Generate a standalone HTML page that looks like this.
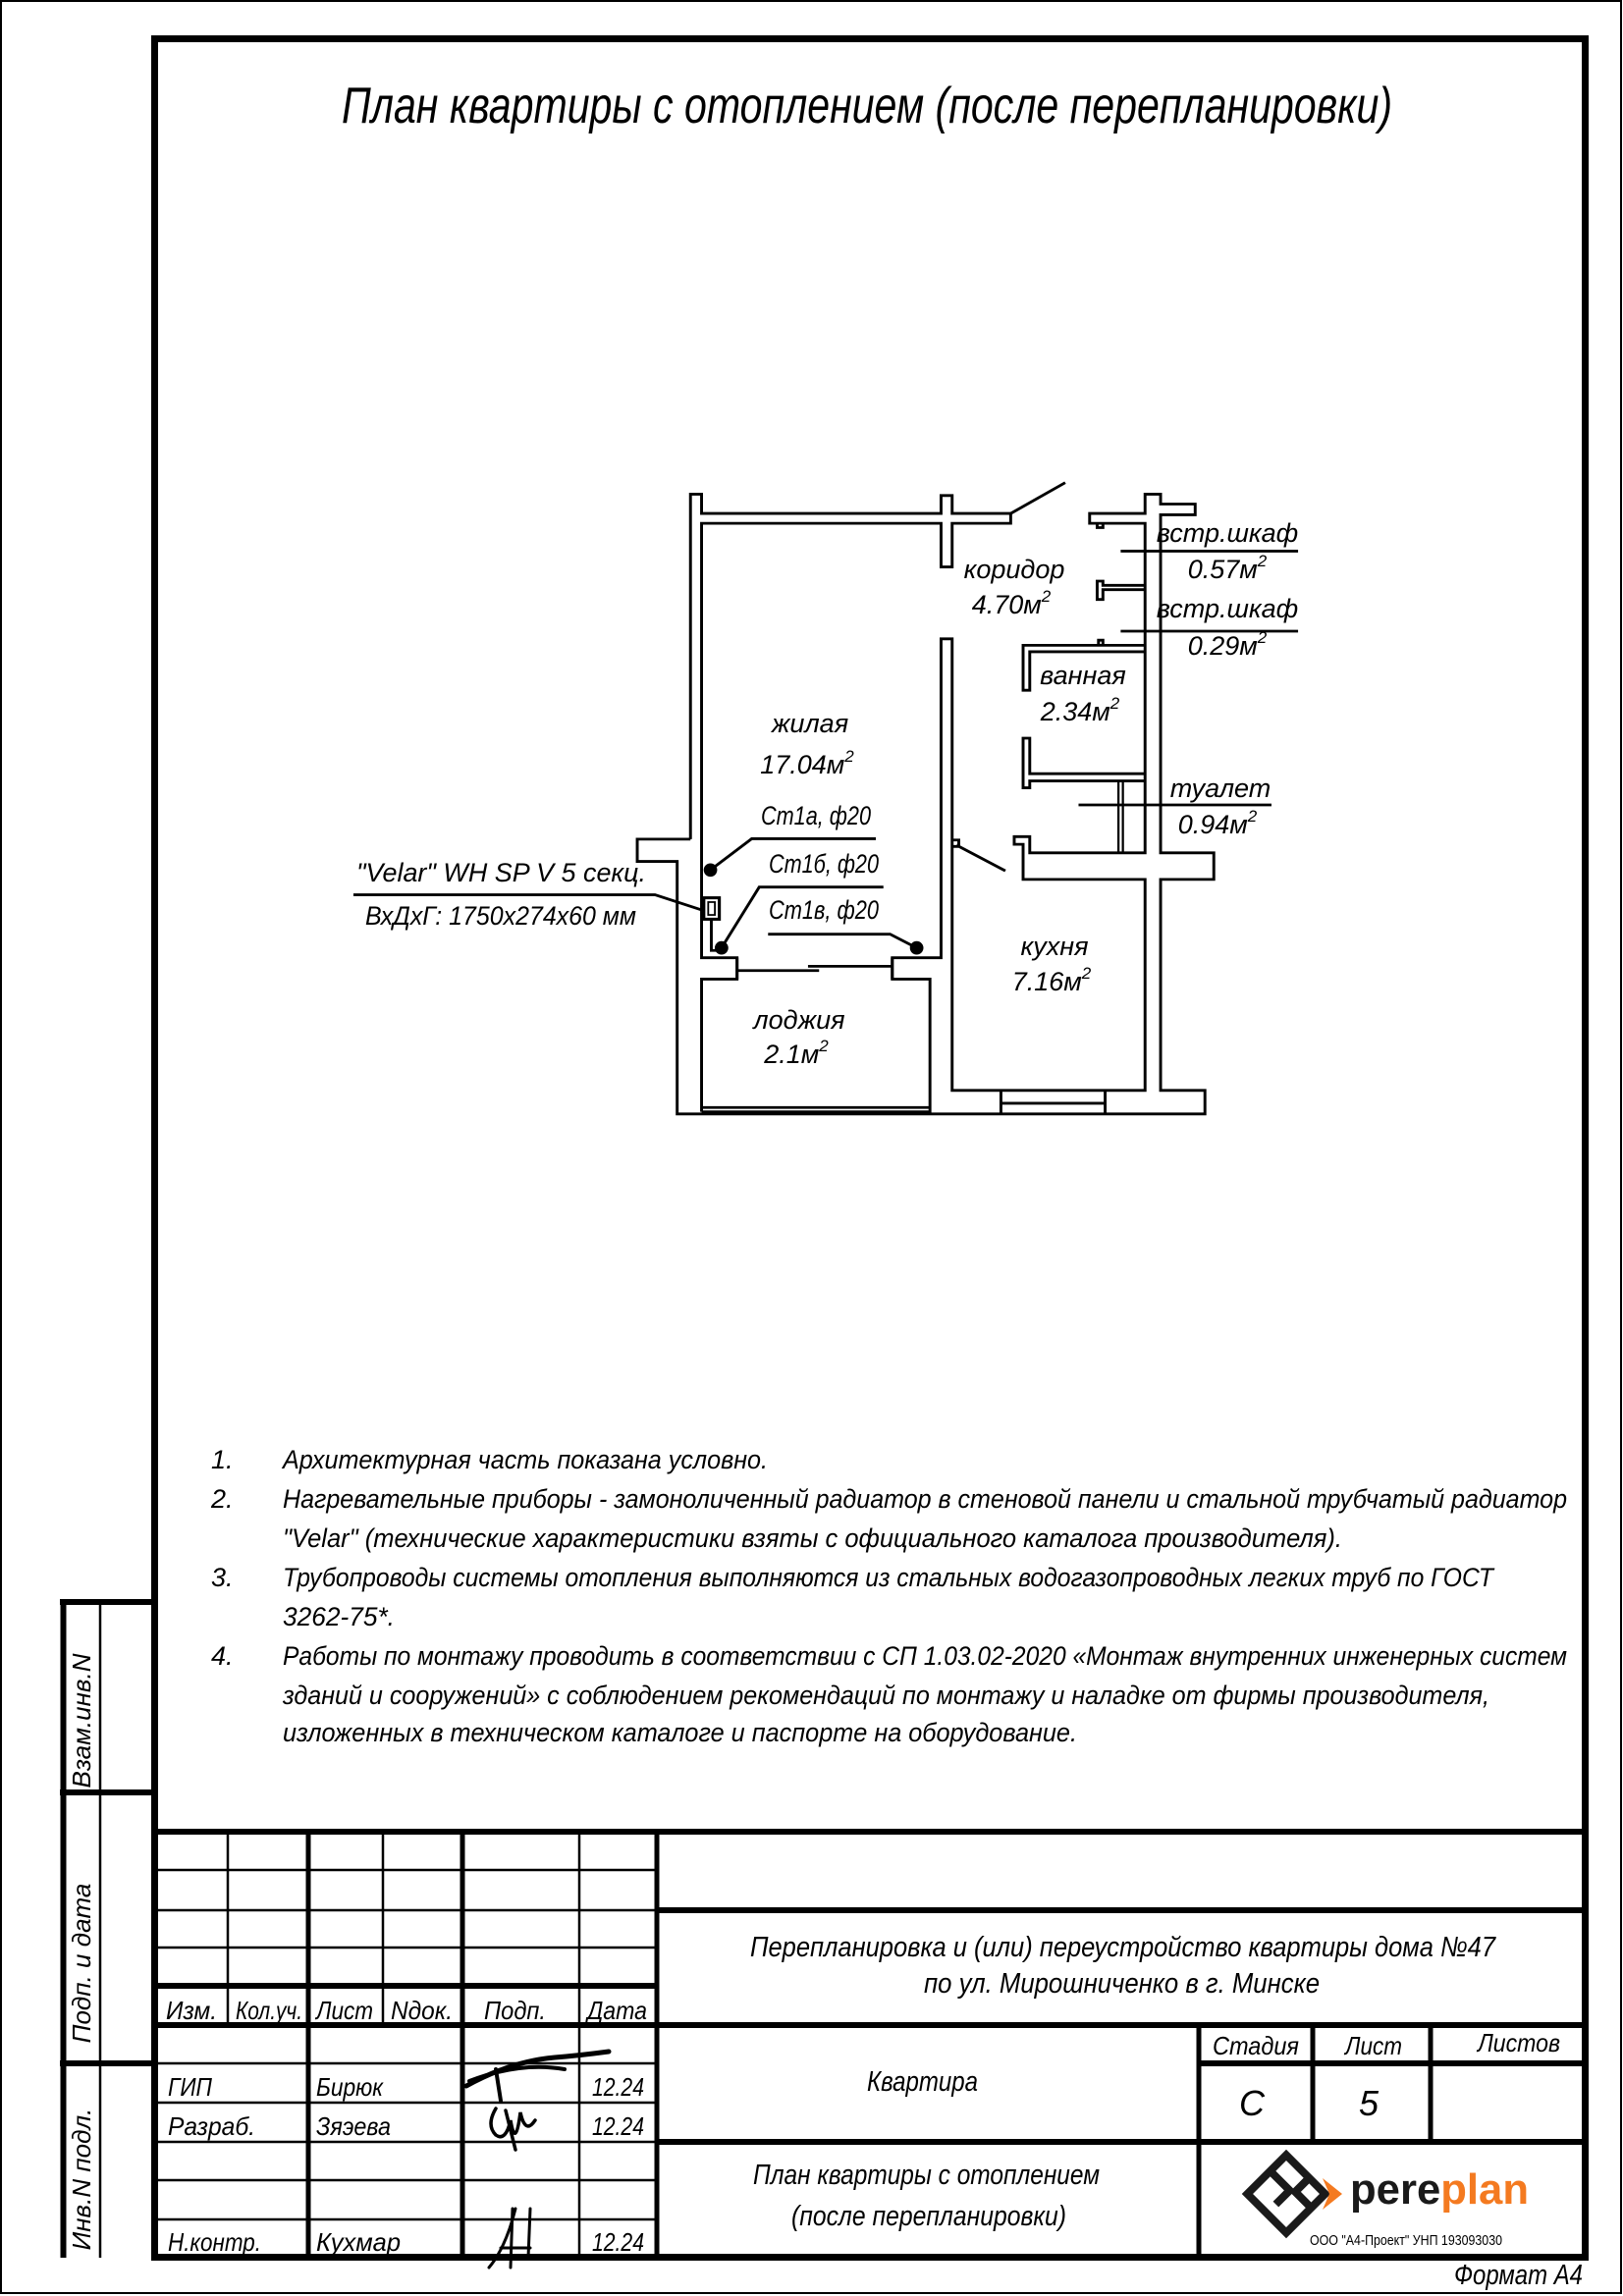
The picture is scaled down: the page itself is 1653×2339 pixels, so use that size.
<!DOCTYPE html>
<html><head><meta charset="utf-8">
<style>
html,body{margin:0;padding:0;background:#fff;}
svg{display:block;}
text{font-family:"Liberation Sans Narrow","Liberation Sans",sans-serif;font-style:italic;fill:#000;}
</style></head>
<body>
<svg width="1653" height="2339" viewBox="0 0 1653 2339" xmlns="http://www.w3.org/2000/svg">
<rect x="1" y="1" width="1650" height="2335" fill="none" stroke="#000" stroke-width="2"/>
<!-- main frame -->
<rect x="157.5" y="39.5" width="1457" height="2260" fill="none" stroke="#000" stroke-width="7"/>

<!-- title -->
<text x="348" y="125" font-size="52" textLength="1070" lengthAdjust="spacingAndGlyphs">План квартиры с отоплением (после перепланировки)</text>

<!-- floor plan -->
<g transform="translate(640,480.8) scale(0.4517,0.436)" fill="none" stroke="#000" stroke-width="6.5">
<path d="M140,858 V52 H165 V97 H705 V55 H730 V97 H862 V120 H730 V222 H705 V120 H165 V1135 H245 V1185 H165 V1495"/>
<path d="M140,858 H20 V910 H110 V1500 H1300 V1445 H1200 V952 H1320 V890 H1200 V100 H1278 V75 H1200 V52 H1165 V97 H1040 V120 H1165 V890 H905 V852 H870 V870 H890 V952 H1165 V1445 H730 V390 H705 V1135 H595 V1185 H680 V1495 H165"/>
<path d="M165,1485 H680"/>
<path d="M862,97 L985,25"/>
<path d="M1057,120 V130 H1070 V120"/>
<path d="M1165,265 H1070 V255 H1057 V298 H1070 V275 H1165"/>
<path d="M1165,405 H890 V510 H905 V420 H1165"/>
<path d="M1060,405 V393 H1070 V405"/>
<path d="M1165,705 H905 V622 H890 V738 H905 V722 H1165"/>
<path d="M1105,722 V890 M1115,722 V890" stroke-width="5"/>
<path d="M245,1135 V1185 M245,1165 H430 M405,1155 H595 M595,1135 V1185"/>
<path d="M840,1445 V1500 M1075,1445 V1500 M840,1475 H1075"/>
<path d="M730,860 H745 V875 H730 M740,872 L850,932"/>
<!-- leaders -->
<path d="M1110,185 H1510 M1110,372 H1510 M1015,778 H1450"/>
<path d="M185,930 L278,857 H558 M210,1112 L295,970 H575 M650,1112 L590,1080 H315"/>
<path d="M187,1045 V1118 H210"/>
<rect x="170" y="995" width="35" height="50" stroke-width="7"/>
<rect x="180" y="1005" width="15" height="30" stroke-width="4"/>
<path d="M170,1025 L60,988 H-620"/>
<ellipse cx="185" cy="930" rx="12" ry="12.4" fill="#000"/>
<ellipse cx="210" cy="1112" rx="12" ry="12.4" fill="#000"/>
<ellipse cx="650" cy="1112" rx="12" ry="12.4" fill="#000"/>
</g>

<!-- plan labels -->
<g font-size="27" text-anchor="middle">
<text x="1033" y="589">коридор</text>
<text x="1030" y="625">4.70м<tspan font-size="17" dy="-12">2</tspan></text>
<text x="1250" y="552">встр.шкаф</text>
<text x="1250" y="589">0.57м<tspan font-size="17" dy="-12">2</tspan></text>
<text x="1250" y="629">встр.шкаф</text>
<text x="1250" y="667">0.29м<tspan font-size="17" dy="-12">2</tspan></text>
<text x="1103" y="697">ванная</text>
<text x="1100" y="734">2.34м<tspan font-size="17" dy="-12">2</tspan></text>
<text x="825" y="746">жилая</text>
<text x="822" y="788">17.04м<tspan font-size="17" dy="-12">2</tspan></text>
<text x="1243" y="812">туалет</text>
<text x="1240" y="849">0.94м<tspan font-size="17" dy="-12">2</tspan></text>
<text x="1074" y="973">кухня</text>
<text x="1071" y="1009">7.16м<tspan font-size="17" dy="-12">2</tspan></text>
<text x="814" y="1048">лоджия</text>
<text x="811" y="1083">2.1м<tspan font-size="17" dy="-12">2</tspan></text>
</g>
<g font-size="27">
<text x="775" y="840" textLength="112" lengthAdjust="spacingAndGlyphs">Ст1а, ф20</text>
<text x="783" y="889" textLength="112" lengthAdjust="spacingAndGlyphs">Ст1б, ф20</text>
<text x="783" y="936" textLength="112" lengthAdjust="spacingAndGlyphs">Ст1в, ф20</text>
<text x="363" y="898" textLength="295" lengthAdjust="spacingAndGlyphs">"Velar" WH SP V 5 секц.</text>
<text x="372" y="942" textLength="276" lengthAdjust="spacingAndGlyphs">ВхДхГ: 1750х274х60 мм</text>
</g>

<!-- notes -->
<g font-size="27">
<text x="215" y="1496">1.</text>
<text x="215" y="1536">2.</text>
<text x="215" y="1616">3.</text>
<text x="215" y="1696">4.</text>
<text x="288" y="1496" textLength="494" lengthAdjust="spacingAndGlyphs">Архитектурная часть показана условно.</text>
<text x="288" y="1536" textLength="1308" lengthAdjust="spacingAndGlyphs">Нагревательные приборы - замоноличенный радиатор в стеновой панели и стальной трубчатый радиатор</text>
<text x="288" y="1576" textLength="1079" lengthAdjust="spacingAndGlyphs">"Velar" (технические характеристики взяты с официального каталога производителя).</text>
<text x="288" y="1616" textLength="1233" lengthAdjust="spacingAndGlyphs">Трубопроводы системы отопления выполняются из стальных водогазопроводных легких труб по ГОСТ</text>
<text x="288" y="1656" textLength="114" lengthAdjust="spacingAndGlyphs">3262-75*.</text>
<text x="288" y="1696" textLength="1308" lengthAdjust="spacingAndGlyphs">Работы по монтажу проводить в соответствии с СП 1.03.02-2020 «Монтаж внутренних инженерных систем</text>
<text x="288" y="1736" textLength="1229" lengthAdjust="spacingAndGlyphs">зданий и сооружений» с соблюдением рекомендаций по монтажу и наладке от фирмы производителя,</text>
<text x="288" y="1774" textLength="809" lengthAdjust="spacingAndGlyphs">изложенных в техническом каталоге и паспорте на оборудование.</text>
</g>

<!-- side bar -->
<g stroke="#000" fill="none">
<path d="M64.5,1629 V2300 M61,1632 H158 M61,1826 H158 M61,2102 H158" stroke-width="6"/>
<path d="M102,1632 V2300" stroke-width="2.5"/>
</g>
<g font-size="26" text-anchor="middle">
<text transform="translate(92,1753) rotate(-90)">Взам.инв.N</text>
<text transform="translate(92,2000) rotate(-90)">Подп. и дата</text>
<text transform="translate(92,2220) rotate(-90)">Инв.N подл.</text>
</g>

<!-- title block lines -->
<g stroke="#000" fill="none">
<path d="M158,1866 H1615 M158,2023 H669 M158,2063 H1615 M669,1946 H1615 M1221,2102 H1615 M669,2182 H1615" stroke-width="6"/>
<path d="M314,1866 V2300 M471,1866 V2300 M669,1866 V2300 M1221,2063 V2300 M1337,2063 V2182 M1457,2063 V2182" stroke-width="5"/>
<path d="M232,1866 V2063 M390,1866 V2063 M590,1866 V2300" stroke-width="2.5"/>
<path d="M158,1905 H669 M158,1946 H669 M158,1984 H669 M158,2102 H669 M158,2142 H669 M158,2182 H669 M158,2221 H669 M158,2261 H669" stroke-width="2.5"/>
</g>
<g font-size="26">
<text x="169" y="2057" textLength="52" lengthAdjust="spacingAndGlyphs">Изм.</text>
<text x="240" y="2057" textLength="68" lengthAdjust="spacingAndGlyphs">Кол.уч.</text>
<text x="322" y="2057" textLength="58" lengthAdjust="spacingAndGlyphs">Лист</text>
<text x="398" y="2057" textLength="63" lengthAdjust="spacingAndGlyphs">Nдок.</text>
<text x="493" y="2057" textLength="63" lengthAdjust="spacingAndGlyphs">Подп.</text>
<text x="598" y="2057" textLength="61" lengthAdjust="spacingAndGlyphs">Дата</text>
<text x="171" y="2135" textLength="45" lengthAdjust="spacingAndGlyphs">ГИП</text>
<text x="322" y="2135" textLength="68" lengthAdjust="spacingAndGlyphs">Бирюк</text>
<text x="603" y="2135" textLength="53" lengthAdjust="spacingAndGlyphs">12.24</text>
<text x="171" y="2175" textLength="89" lengthAdjust="spacingAndGlyphs">Разраб.</text>
<text x="322" y="2175" textLength="76" lengthAdjust="spacingAndGlyphs">Зяэева</text>
<text x="603" y="2175" textLength="53" lengthAdjust="spacingAndGlyphs">12.24</text>
<text x="171" y="2293" textLength="95" lengthAdjust="spacingAndGlyphs">Н.контр.</text>
<text x="322" y="2293" textLength="86" lengthAdjust="spacingAndGlyphs">Кухмар</text>
<text x="603" y="2293" textLength="53" lengthAdjust="spacingAndGlyphs">12.24</text>
<text x="764" y="1993" font-size="29" textLength="759" lengthAdjust="spacingAndGlyphs">Перепланировка и (или) переустройство квартиры дома №47</text>
<text x="941" y="2030" font-size="29" textLength="403" lengthAdjust="spacingAndGlyphs">по ул. Мирошниченко в г. Минске</text>
<text x="883" y="2130" font-size="29" textLength="113" lengthAdjust="spacingAndGlyphs">Квартира</text>
<text x="767" y="2225" font-size="29" textLength="353" lengthAdjust="spacingAndGlyphs">План квартиры с отоплением</text>
<text x="806" y="2267" font-size="29" textLength="280" lengthAdjust="spacingAndGlyphs">(после перепланировки)</text>
<text x="1235" y="2093" textLength="88" lengthAdjust="spacingAndGlyphs">Стадия</text>
<text x="1370" y="2093" textLength="58" lengthAdjust="spacingAndGlyphs">Лист</text>
<text x="1505" y="2090" textLength="84" lengthAdjust="spacingAndGlyphs">Листов</text>
<text x="1262" y="2155" font-size="36">С</text>
<text x="1384" y="2155" font-size="36">5</text>
<text x="1481" y="2327" font-size="29" textLength="131" lengthAdjust="spacingAndGlyphs">Формат А4</text>
</g>

<!-- signatures -->
<g stroke="#000" fill="none" stroke-linecap="round">
<path d="M475,2125 Q520,2100 565,2096 Q590,2094 620,2090" stroke-width="5"/>
<path d="M478,2120 Q530,2100 575,2108 M505,2108 L510,2140" stroke-width="4"/>
<path d="M505,2148 Q495,2165 505,2175 Q515,2182 520,2160 Q525,2190 530,2152 Q535,2175 545,2160 M515,2150 L525,2190" stroke-width="3.5"/>
<path d="M498,2310 Q515,2290 525,2250 M522,2250 L520,2310 M510,2290 L540,2290 M540,2250 L538,2300" stroke-width="3"/>
</g>

<!-- logo -->
<g transform="translate(1310,2235)">
<g transform="rotate(45)" fill="none" stroke="#1a1a1a" stroke-width="8">
<rect x="-28" y="-28" width="56" height="56"/>
<path d="M-28,-5 H0 V15 M5,-28 V-8 H28"/>
</g>
</g>
<path d="M1347,2219 L1367,2235 L1347,2251 L1354,2235 Z" fill="#f47a20"/>
<text x="1375" y="2245" font-size="44" font-weight="bold" style="font-family:'Liberation Sans',sans-serif;font-style:normal" textLength="182" lengthAdjust="spacingAndGlyphs"><tspan fill="#1a1a1a">pere</tspan><tspan fill="#f47a20">plan</tspan></text>
<text x="1334" y="2287" font-size="15" style="font-style:normal" textLength="196" lengthAdjust="spacingAndGlyphs">ООО "А4-Проект" УНП 193093030</text>
</svg>
</body></html>
